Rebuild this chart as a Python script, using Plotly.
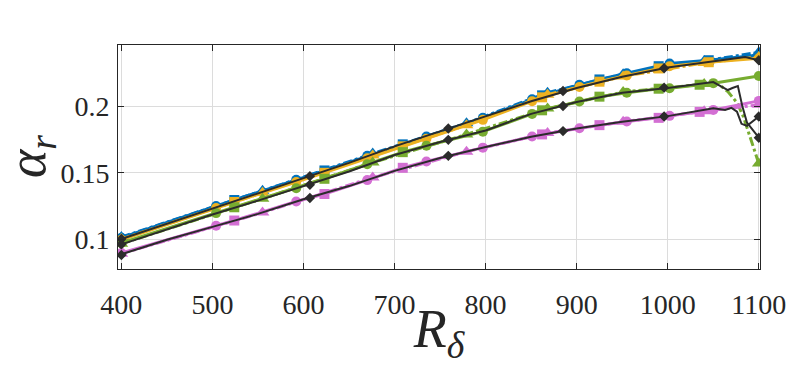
import plotly.graph_objects as go

# ---------------- data ----------------
# top group (blue / orange / black reference)
blue_circ_x = [400, 504, 592, 670, 735, 797, 851, 903, 955, 1002, 1100]
blue_circ_y = [0.1010, 0.1250, 0.1447, 0.1628, 0.1774, 0.1915, 0.2055, 0.2164, 0.2252, 0.2325, 0.2390]
blue_sq_x = [524, 623, 709, 862, 925, 990, 1045]
blue_sq_y = [0.1295, 0.1518, 0.1715, 0.2085, 0.2205, 0.2305, 0.2350]
blue_tri_x = [400, 555, 676, 779, 868, 951, 1040, 1100]
blue_tri_y = [0.1015, 0.1365, 0.1645, 0.1875, 0.2105, 0.2245, 0.2345, 0.2410]

orange_circ_x = [400, 504, 592, 670, 735, 797, 851, 903, 955, 1002, 1100]
orange_circ_y = [0.0995, 0.1235, 0.1430, 0.1610, 0.1758, 0.1900, 0.2040, 0.2148, 0.2235, 0.2305, 0.2365]
orange_sq_x = [524, 623, 709, 862, 925, 990, 1045]
orange_sq_y = [0.1280, 0.1500, 0.1700, 0.2070, 0.2188, 0.2288, 0.2335]
orange_tri_x = [400, 555, 676, 779, 868, 951, 1040, 1100]
orange_tri_y = [0.1000, 0.1350, 0.1630, 0.1860, 0.2090, 0.2228, 0.2330, 0.2375]

black_top_x = [400, 450, 500, 550, 600, 650, 700, 750, 800, 850, 900, 950, 1000, 1050, 1085, 1100]
black_top_y = [0.1000, 0.1115, 0.1235, 0.1350, 0.1460, 0.1575, 0.1700, 0.1815, 0.1925, 0.2040, 0.2140, 0.2225, 0.2295, 0.2340, 0.2375, 0.2350]
black_top_dx = [400, 607, 759, 885, 996, 1100]
black_top_dy = [0.1000, 0.1475, 0.1835, 0.2118, 0.2290, 0.2350]

# middle group (green / black reference)
green_circ_x = [400, 504, 592, 670, 735, 797, 851, 903, 955, 1002, 1050, 1100]
green_circ_y = [0.0970, 0.1196, 0.1384, 0.1565, 0.1704, 0.1811, 0.1945, 0.2038, 0.2105, 0.2139, 0.2177, 0.2231]
green_sq_x = [524, 623, 709, 862, 925, 990, 1035]
green_sq_y = [0.1240, 0.1455, 0.1656, 0.1972, 0.2075, 0.2135, 0.2165]
green_tri_x = [400, 555, 676, 779, 868, 951, 1040, 1100]
green_tri_y = [0.0965, 0.1305, 0.1578, 0.1790, 0.1985, 0.2110, 0.2170, 0.1570]
green_dash_x = [400, 555, 676, 779, 868, 951, 1040, 1055, 1066, 1076, 1083, 1090, 1100]
green_dash_y = [0.0965, 0.1305, 0.1578, 0.1790, 0.1985, 0.2110, 0.2170, 0.2175, 0.2113, 0.2030, 0.1925, 0.1780, 0.1570]

black_mid_x = [400, 450, 500, 550, 600, 650, 700, 750, 800, 850, 900, 950, 1000, 1050, 1059, 1066, 1071, 1077, 1082, 1087, 1100]
black_mid_y = [0.0960, 0.1075, 0.1185, 0.1290, 0.1400, 0.1510, 0.1635, 0.1733, 0.1820, 0.1945, 0.2035, 0.2105, 0.2140, 0.2185, 0.2150, 0.2125, 0.2140, 0.2155, 0.2000, 0.1880, 0.1765]
black_mid_dx = [400, 607, 759, 885, 996, 1100]
black_mid_dy = [0.0960, 0.1410, 0.1749, 0.2005, 0.2143, 0.1765]

# bottom group (pink / black reference)
pink_circ_x = [400, 504, 592, 670, 735, 797, 851, 903, 955, 1002, 1050, 1100]
pink_circ_y = [0.0895, 0.1100, 0.1284, 0.1445, 0.1585, 0.1690, 0.1774, 0.1837, 0.1887, 0.1930, 0.1975, 0.2043]
pink_sq_x = [524, 623, 709, 862, 925, 990, 1035]
pink_sq_y = [0.1140, 0.1340, 0.1538, 0.1790, 0.1860, 0.1915, 0.1960]
pink_tri_x = [400, 555, 676, 779, 868, 951, 1040, 1100]
pink_tri_y = [0.0890, 0.1200, 0.1465, 0.1660, 0.1800, 0.1885, 0.1965, 0.2013]

black_bot_x = [400, 450, 500, 550, 600, 650, 700, 750, 800, 850, 900, 950, 1000, 1050, 1063, 1070, 1076, 1081, 1087, 1100]
black_bot_y = [0.0885, 0.0995, 0.1092, 0.1190, 0.1300, 0.1400, 0.1515, 0.1612, 0.1695, 0.1772, 0.1835, 0.1885, 0.1928, 0.1988, 0.1975, 0.1990, 0.1962, 0.1870, 0.1855, 0.1925]
black_bot_dx = [400, 607, 759, 885, 996, 1100]
black_bot_dy = [0.0880, 0.1310, 0.1628, 0.1815, 0.1925, 0.1925]

x_ticks = [400, 500, 600, 700, 800, 900, 1000, 1100]
y_ticks = [0.1, 0.15, 0.2]
y_tick_text = ["0.1", "0.15", "0.2"]

# ---------------- styles ----------------
BLUE = "#0072BD"
ORANGE = "#EDB120"
GREEN = "#77AC30"
PINK = "#D36FD3"
BLACK = "#2B2B2B"

fig = go.Figure()


def add_group(color, cx, cy, sx, sy, tx, ty, dash_x=None, dash_y=None):
    lx = dash_x if dash_x is not None else tx
    ly = dash_y if dash_y is not None else ty
    fig.add_trace(go.Scatter(x=lx, y=ly, mode="lines",
                             line=dict(color=color, width=3, dash="dashdot")))
    fig.add_trace(go.Scatter(x=tx, y=ty, mode="markers",
                             marker=dict(symbol="triangle-up", size=12, color=color)))
    pts = sorted(zip(cx + sx, cy + sy, ["circle"] * len(cx) + ["square"] * len(sx)))
    fig.add_trace(go.Scatter(x=[p[0] for p in pts], y=[p[1] for p in pts],
                             mode="lines+markers",
                             line=dict(color=color, width=3),
                             marker=dict(symbol=[p[2] for p in pts], size=10, color=color)))


def add_black(x, y, dx, dy):
    fig.add_trace(go.Scatter(x=x, y=y, mode="lines", line=dict(color=BLACK, width=2)))
    fig.add_trace(go.Scatter(x=dx, y=dy, mode="markers",
                             marker=dict(symbol="diamond", size=8, color=BLACK)))


add_group(BLUE, blue_circ_x, blue_circ_y, blue_sq_x, blue_sq_y, blue_tri_x, blue_tri_y)
add_group(ORANGE, orange_circ_x, orange_circ_y, orange_sq_x, orange_sq_y, orange_tri_x, orange_tri_y)
add_group(GREEN, green_circ_x, green_circ_y, green_sq_x, green_sq_y, green_tri_x, green_tri_y,
          green_dash_x, green_dash_y)
add_group(PINK, pink_circ_x, pink_circ_y, pink_sq_x, pink_sq_y, pink_tri_x, pink_tri_y)
add_black(black_top_x, black_top_y, black_top_dx, black_top_dy)
add_black(black_mid_x, black_mid_y, black_mid_dx, black_mid_dy)
add_black(black_bot_x, black_bot_y, black_bot_dx, black_bot_dy)

FONT = "Liberation Serif"
axis_common = dict(
    showline=True, linecolor="#262626", linewidth=1, mirror="ticks",
    ticks="inside", ticklen=6, tickcolor="#262626",
    showgrid=True, gridcolor="#DCDCDC", gridwidth=1,
    zeroline=False, automargin=False,
    tickfont=dict(family=FONT, size=28, color="#262626"),
)

fig.update_layout(
    width=793, height=366,
    margin=dict(l=118, r=33, t=45, b=97),
    paper_bgcolor="white", plot_bgcolor="white",
    showlegend=False,
    xaxis=dict(range=[396.3, 1101.3], tickvals=x_ticks,
               ticktext=[str(v) for v in x_ticks],
               title=dict(text="<i>R</i><sub><i>δ</i></sub>",
                          font=dict(family=FONT, size=54, color="#262626"), standoff=8),
               ticklabelstandoff=10,
               **axis_common),
    yaxis=dict(range=[0.0774, 0.2465], tickvals=y_ticks, ticktext=y_tick_text,
               ticklabelstandoff=2,
               **axis_common),
    annotations=[dict(
        text="<i>α</i><sub><i>r</i></sub>", textangle=-90, showarrow=False,
        xref="paper", yref="paper", x=(30 - 118) / 642, y=0.5,
        xanchor="center", yanchor="middle",
        font=dict(family=FONT, size=54, color="#262626"),
    )],
)

fig.write_html("out.html", config={"displayModeBar": False})

# remove the default page margin so the figure sits at the window's top-left corner
with open("out.html", "r", encoding="utf-8") as f:
    html = f.read()
html = html.replace("<body>", '<body style="margin:0;padding:0;">', 1)
with open("out.html", "w", encoding="utf-8") as f:
    f.write(html)
